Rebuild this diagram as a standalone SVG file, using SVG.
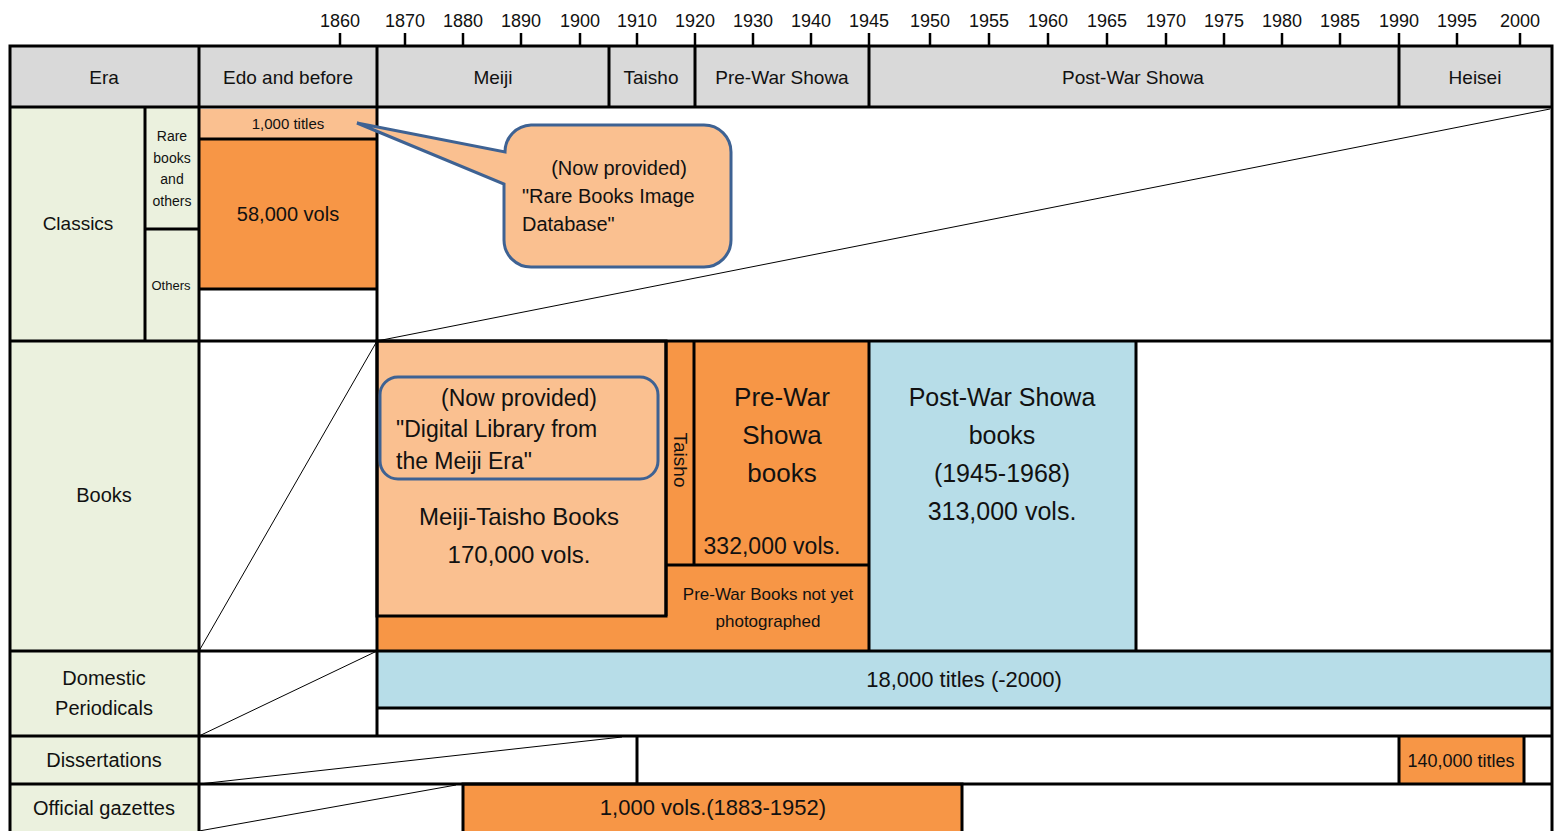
<svg xmlns="http://www.w3.org/2000/svg" width="1556" height="831" viewBox="0 0 1556 831">
<style>
text{font-family:"Liberation Sans",Arial,sans-serif;fill:#111;text-anchor:middle}
.tick{stroke:#000;stroke-width:2.5}
.yr{font-size:18px}
.hdr{fill:#d9d9d9}
.lab{fill:#ebf1de}
.lo{fill:#fac090}
.or{fill:#f79646}
.bl{fill:#b7dde8}
.ln{stroke:#000;stroke-width:3;fill:none}
.thin{stroke:#000;stroke-width:1;fill:none}
.call{fill:#fac090;stroke:#3e6293;stroke-width:3}
</style>
<rect width="1556" height="831" fill="#fff"/>
<g id="axis">
<g class="tick">
<line x1="340" y1="33" x2="340" y2="46"/><line x1="405" y1="33" x2="405" y2="46"/><line x1="463" y1="33" x2="463" y2="46"/><line x1="521" y1="33" x2="521" y2="46"/><line x1="580" y1="33" x2="580" y2="46"/><line x1="637" y1="33" x2="637" y2="46"/><line x1="695" y1="33" x2="695" y2="46"/><line x1="753" y1="33" x2="753" y2="46"/><line x1="811" y1="33" x2="811" y2="46"/><line x1="869" y1="33" x2="869" y2="46"/><line x1="930" y1="33" x2="930" y2="46"/><line x1="989" y1="33" x2="989" y2="46"/><line x1="1048" y1="33" x2="1048" y2="46"/><line x1="1107" y1="33" x2="1107" y2="46"/><line x1="1166" y1="33" x2="1166" y2="46"/><line x1="1224" y1="33" x2="1224" y2="46"/><line x1="1282" y1="33" x2="1282" y2="46"/><line x1="1340" y1="33" x2="1340" y2="46"/><line x1="1399" y1="33" x2="1399" y2="46"/><line x1="1457" y1="33" x2="1457" y2="46"/><line x1="1520" y1="33" x2="1520" y2="46"/>
</g>
<g class="yr">
<text x="340" y="27">1860</text><text x="405" y="27">1870</text><text x="463" y="27">1880</text><text x="521" y="27">1890</text><text x="580" y="27">1900</text><text x="637" y="27">1910</text><text x="695" y="27">1920</text><text x="753" y="27">1930</text><text x="811" y="27">1940</text><text x="869" y="27">1945</text><text x="930" y="27">1950</text><text x="989" y="27">1955</text><text x="1048" y="27">1960</text><text x="1107" y="27">1965</text><text x="1166" y="27">1970</text><text x="1224" y="27">1975</text><text x="1282" y="27">1980</text><text x="1340" y="27">1985</text><text x="1399" y="27">1990</text><text x="1457" y="27">1995</text><text x="1520" y="27">2000</text>
</g>
</g>
<g id="header">
<rect class="hdr" x="10" y="46" width="1542" height="61"/>
<g font-size="19">
<text x="104" y="84">Era</text>
<text x="288" y="84">Edo and before</text>
<text x="493" y="84">Meiji</text>
<text x="651" y="84">Taisho</text>
<text x="782" y="84">Pre-War Showa</text>
<text x="1133" y="84">Post-War Showa</text>
<text x="1475" y="84">Heisei</text>
</g>
</g>
<g id="labels">
<rect class="lab" x="10" y="107" width="189" height="724"/>
<text x="78" y="230" font-size="19">Classics</text>
<g font-size="14"><text x="172" y="141">Rare</text><text x="172" y="163">books</text><text x="172" y="184">and</text><text x="172" y="206">others</text><text x="171" y="290" font-size="13">Others</text></g>
<text x="104" y="502" font-size="20">Books</text>
<text x="104" y="685" font-size="20">Domestic</text>
<text x="104" y="715" font-size="20">Periodicals</text>
<text x="104" y="767" font-size="20">Dissertations</text>
<text x="104" y="815" font-size="20">Official gazettes</text>
</g>
<g id="classics">
<rect class="lo" x="199" y="109" width="178" height="30"/>
<rect class="or" x="199" y="139" width="178" height="150"/>
<text x="288" y="129" font-size="15">1,000 titles</text>
<text x="288" y="221" font-size="20">58,000 vols</text>
<line class="ln" x1="199" y1="139" x2="377" y2="139"/>
<line class="ln" x1="199" y1="289" x2="377" y2="289"/>
</g>
<g id="books">
<rect class="or" x="377" y="341" width="492" height="310"/>
<rect class="bl" x="869" y="341" width="267" height="310"/>
<rect class="lo" x="377" y="341" width="289" height="275" stroke="#000" stroke-width="3"/>
<line class="ln" x1="694" y1="341" x2="694" y2="565"/>
<line class="ln" x1="666" y1="565" x2="869" y2="565"/>
<line class="ln" x1="666" y1="341" x2="666" y2="616"/>
<line class="ln" x1="869" y1="341" x2="869" y2="651"/>
<line class="ln" x1="1136" y1="341" x2="1136" y2="651"/>
<text x="680" y="460" font-size="19" transform="rotate(90 680 460)" dy="6">Taisho</text>
<g font-size="24">
<text x="519" y="525">Meiji-Taisho Books</text>
<text x="519" y="563">170,000 vols.</text>
</g>
<g font-size="26">
<text x="782" y="406">Pre-War</text>
<text x="782" y="444">Showa</text>
<text x="782" y="482">books</text>
</g>
<text x="772" y="554" font-size="23">332,000 vols.</text>
<text x="768" y="600" font-size="17">Pre-War Books not yet</text>
<text x="768" y="627" font-size="17">photographed</text>
<g font-size="25">
<text x="1002" y="406">Post-War Showa</text>
<text x="1002" y="444">books</text>
<text x="1002" y="482">(1945-1968)</text>
<text x="1002" y="520">313,000 vols.</text>
</g>
</g>
<g id="periodicals">
<rect class="bl" x="377" y="651" width="1175" height="57"/>
<line class="ln" x1="377" y1="708" x2="1552" y2="708"/>
<text x="964" y="687" font-size="22">18,000 titles (-2000)</text>
</g>
<g id="dissertations">
<rect class="or" x="1399" y="736" width="124" height="48"/>
<line class="ln" x1="1399" y1="736" x2="1399" y2="784"/>
<line class="ln" x1="1524" y1="736" x2="1524" y2="784"/>
<line class="ln" x1="637" y1="736" x2="637" y2="784"/>
<text x="1461" y="767" font-size="18">140,000 titles</text>
</g>
<g id="gazettes">
<rect class="or" x="463" y="784" width="499" height="50" stroke="#000" stroke-width="3"/>
<text x="713" y="815" font-size="22">1,000 vols.(1883-1952)</text>
</g>
<g id="grid">
<rect class="ln" x="10" y="46" width="1542" height="790"/>
<line class="ln" x1="10" y1="107" x2="1552" y2="107"/>
<line class="ln" x1="10" y1="341" x2="1552" y2="341"/>
<line class="ln" x1="10" y1="651" x2="1552" y2="651"/>
<line class="ln" x1="10" y1="736" x2="1552" y2="736"/>
<line class="ln" x1="10" y1="784" x2="1552" y2="784"/>
<line class="ln" x1="199" y1="46" x2="199" y2="831"/>
<line class="ln" x1="377" y1="46" x2="377" y2="736"/>
<line class="ln" x1="609" y1="46" x2="609" y2="107"/>
<line class="ln" x1="695" y1="46" x2="695" y2="107"/>
<line class="ln" x1="869" y1="46" x2="869" y2="107"/>
<line class="ln" x1="1399" y1="46" x2="1399" y2="107"/>
<line class="ln" x1="145" y1="107" x2="145" y2="341"/>
<line class="ln" x1="145" y1="229" x2="199" y2="229"/>
</g>
<g id="connectors">
<line class="thin" x1="377" y1="341" x2="1550" y2="109"/>
<line class="thin" x1="377" y1="341" x2="199" y2="651"/>
<line class="thin" x1="377" y1="651" x2="199" y2="736"/>
<line class="thin" x1="622" y1="737" x2="199" y2="784"/>
<line class="thin" x1="456" y1="785" x2="199" y2="831"/>
</g>
<g id="callout-rare">
<path class="call" d="M531,125 H704 A27,27 0 0 1 731,152 V240 A27,27 0 0 1 704,267 H531 A27,27 0 0 1 504,240 V184 L357,123 L505,152 A27,27 0 0 1 531,125 Z"/>
<text x="619" y="175" font-size="20">(Now provided)</text>
<text x="522" y="203" font-size="20" style="text-anchor:start">"Rare Books Image</text>
<text x="522" y="231" font-size="20" style="text-anchor:start">Database"</text>
</g>
<g id="callout-meiji">
<rect x="380" y="377" width="278" height="102" rx="18" fill="none" stroke="#3e6293" stroke-width="3"/>
<text x="519" y="406" font-size="23">(Now provided)</text>
<text x="396" y="437" font-size="23" style="text-anchor:start">"Digital Library from</text>
<text x="396" y="469" font-size="23" style="text-anchor:start">the Meiji Era"</text>
</g>
</svg>
